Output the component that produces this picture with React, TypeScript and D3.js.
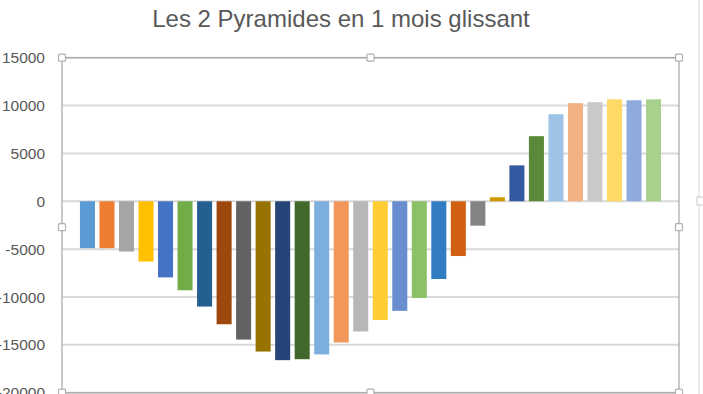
import React from "react";
import { scaleBand, scaleLinear } from "d3";

// 30 jours glissants
const days = Array.from({ length: 30 }, (_, i) => `J${i + 1}`);

const values = [
  -4900, -4900, -5250, -6300, -7950, -9300, -11000, -12850, -14450, -15700,
  -16600, -16500, -16000, -14750, -13600, -12400, -11450, -10100, -8120, -5720,
  -2550, 420, 3750, 6800, 9100, 10250, 10350, 10650, 10550, 10650,
];

// Excel "varied colors" palette
const colors = [
  "#5B9BD5", "#ED7D31", "#A5A5A5", "#FFC000", "#4472C4", "#70AD47",
  "#255E91", "#9E480E", "#636363", "#997300", "#264478", "#43682B",
  "#7CAFDD", "#F1975A", "#B7B7B7", "#FFCD33", "#698ED0", "#8CC168",
  "#327DC2", "#D26012", "#848484", "#CC9A00", "#335AA1", "#5A8A39",
  "#9DC3E6", "#F4B183", "#C9C9C9", "#FFD966", "#8FAADC", "#A9D18E",
];

const yTicks = [15000, 10000, 5000, 0, -5000, -10000, -15000, -20000];

const title = "Les 2 Pyramides en 1 mois glissant";

const width = 703;
const height = 394;
const plot = { left: 62, right: 679, top: 57.7, bottom: 392.7 };

const App = () => {
  const y = scaleLinear()
    .domain([-20000, 15000])
    .range([plot.bottom, plot.top]);

  const x = scaleBand()
    .domain(days)
    .range([77.7, 663.3])
    .paddingInner(0.23)
    .paddingOuter(0.115);

  const midX = (plot.left + plot.right) / 2;
  const midY = (plot.top + plot.bottom) / 2 + 2;
  const handles = [
    [plot.left, plot.top], [midX, plot.top], [plot.right, plot.top],
    [plot.left, midY], [plot.right, midY],
    [plot.left, plot.bottom], [midX, plot.bottom], [plot.right, plot.bottom],
  ];

  return (
    <svg
      width={width}
      height={height}
      style={{ position: "absolute", left: 0, top: 0, background: "#fff" }}
      fontFamily="'Liberation Sans', Arial, sans-serif"
    >
      <text
        x={341}
        y={27}
        textAnchor="middle"
        fontSize={24}
        fill="#595959"
      >
        {title}
      </text>

      {/* chart area edge */}
      <line x1={699} x2={699} y1={0} y2={height} stroke="#d9d9d9" />
      <rect x={697} y={197} width={8} height={8} fill="#fff" stroke="#c8c8c8" />

      {yTicks.map((t) => (
        <g key={t}>
          <line
            x1={plot.left}
            x2={plot.right}
            y1={y(t)}
            y2={y(t)}
            stroke="#d9d9d9"
            strokeWidth={2}
          />
          <text
            x={45}
            y={y(t)}
            dy="0.36em"
            textAnchor="end"
            fontSize={15.5}
            fill="#595959"
          >
            {t}
          </text>
        </g>
      ))}

      {values.map((v, i) => (
        <rect
          key={days[i]}
          x={x(days[i])}
          y={y(Math.max(0, v))}
          width={x.bandwidth()}
          height={Math.abs(y(v) - y(0))}
          fill={colors[i]}
        />
      ))}

      {/* plot area selection frame */}
      <rect
        x={plot.left}
        y={plot.top}
        width={plot.right - plot.left}
        height={plot.bottom - plot.top}
        fill="none"
        stroke="#a6a6a6"
        strokeWidth={1.2}
      />
      {handles.map(([hx, hy], i) => (
        <rect
          key={i}
          x={hx - 3.5}
          y={hy - 3.5}
          width={7}
          height={7}
          rx={1}
          fill="#fff"
          stroke="#b0b0b0"
          strokeWidth={1.2}
        />
      ))}
    </svg>
  );
};

export default App;
